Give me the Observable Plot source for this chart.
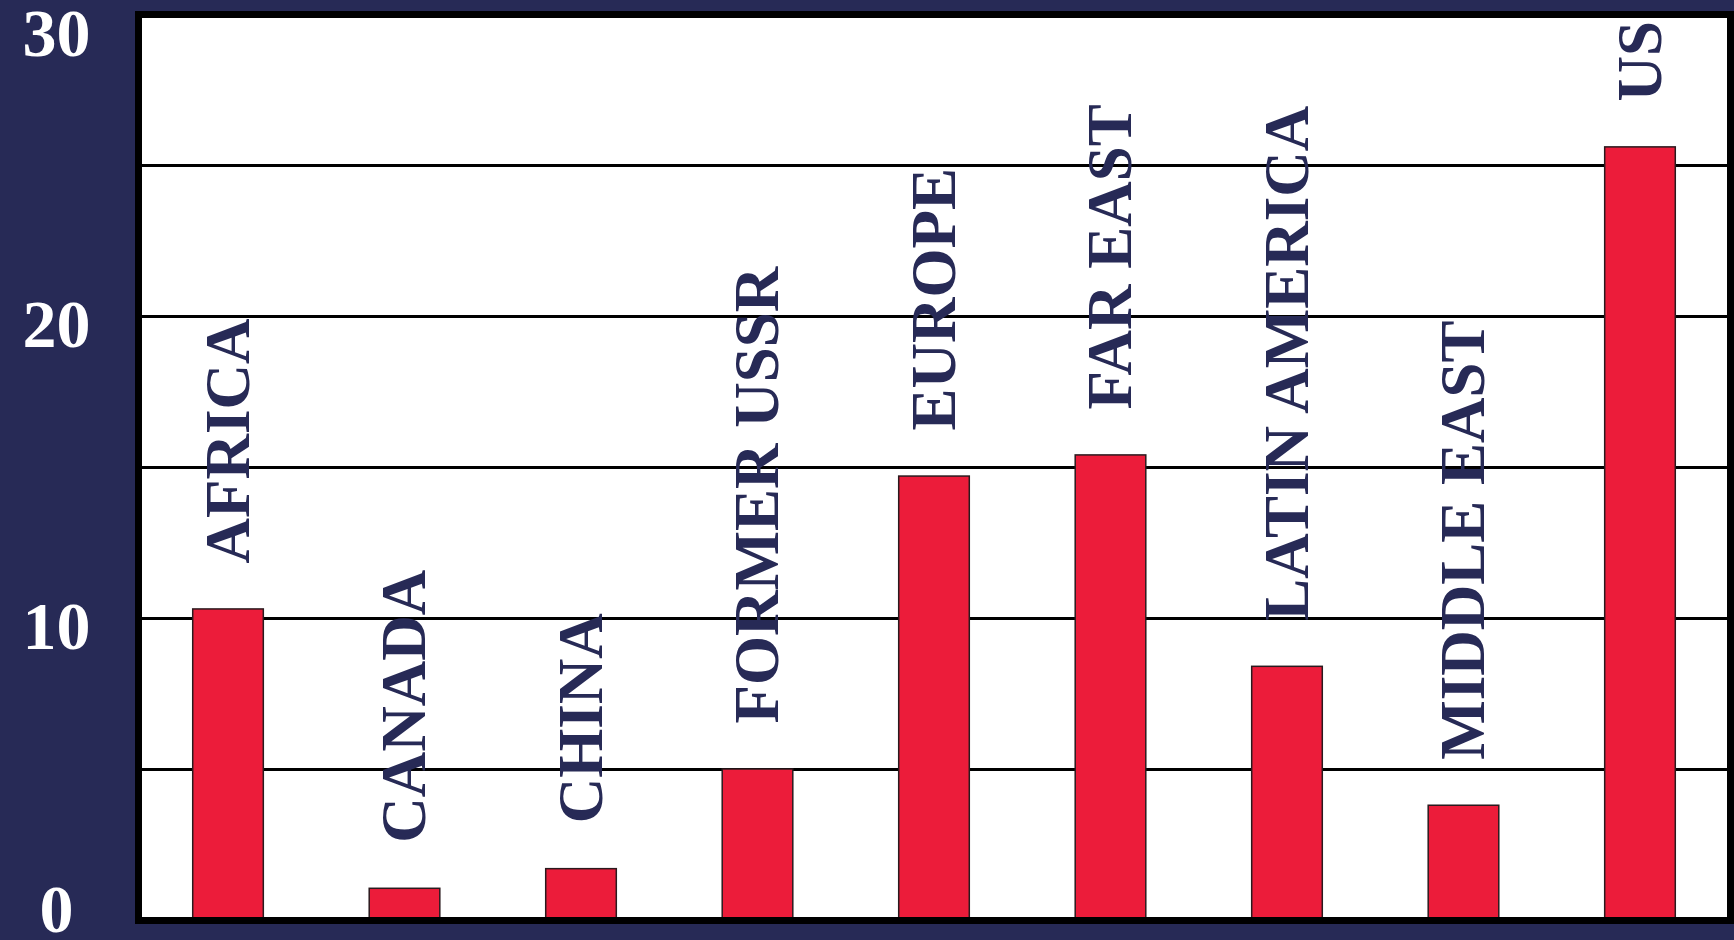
<!DOCTYPE html>
<html>
<head>
<meta charset="utf-8">
<script src="https://cdn.jsdelivr.net/npm/d3@7"></script>
<script src="https://cdn.jsdelivr.net/npm/@observablehq/plot@0.6"></script>
<style>
  html, body { margin: 0; padding: 0; background: #272a56; overflow: hidden; }
  #chart { width: 1734px; height: 940px; }
</style>
</head>
<body>
<div id="chart"></div>
<script>
const regions = ["AFRICA", "CANADA", "CHINA", "FORMER USSR", "EUROPE", "FAR EAST", "LATIN AMERICA", "MIDDLE EAST", "US"];
const values = [10.3, 1.05, 1.7, 5.0, 14.7, 15.4, 8.4, 3.8, 25.6];
const gridValues = [5, 10, 15, 20, 25];
const yTickLabels = [0, 10, 20, 30];

const data = regions.map((r, i) => ({region: r, value: values[i]}));

const navy = "#272a56";
const red = "#ec1c3a";
const serif = "'Liberation Serif', 'Times New Roman', serif";

const tickStyle = {
  frameAnchor: "left",
  text: d => String(d),
  fill: "white",
  fontSize: 68,
  fontWeight: "bold",
  fontFamily: serif,
  textAnchor: "middle",
  dx: -82
};

const chart = Plot.plot({
  width: 1734,
  height: 940,
  marginLeft: 138,
  marginRight: 4,
  marginTop: 14,
  marginBottom: 20,
  style: {background: navy, overflow: "visible"},
  x: {domain: regions, axis: null, paddingInner: 0.6, paddingOuter: 0.31, round: false},
  y: {domain: [0, 30], axis: null},
  marks: [
    Plot.frame({fill: "white", stroke: null}),
    Plot.ruleY(gridValues, {stroke: "black", strokeWidth: 3}),
    Plot.barY(data, {x: "region", y: "value", fill: red, stroke: "#2a1a1e", strokeWidth: 1.5}),
    Plot.frame({stroke: "black", strokeWidth: 7}),
    Plot.text(data, {
      x: "region", y: "value", text: "region",
      rotate: -90, textAnchor: "start", lineAnchor: "middle",
      dy: -46,
      fill: navy, fontSize: 63, fontWeight: "bold", fontFamily: serif
    }),
    Plot.text(yTickLabels.filter(d => d === 0), {...tickStyle, y: d => d, lineAnchor: "middle", dy: -10}),
    Plot.text(yTickLabels.filter(d => d > 0 && d < 30), {...tickStyle, y: d => d, lineAnchor: "middle", dy: 9}),
    Plot.text(yTickLabels.filter(d => d === 30), {...tickStyle, y: d => d, lineAnchor: "middle", dy: 20})
  ]
});
document.getElementById("chart").append(chart);
</script>
</body>
</html>
